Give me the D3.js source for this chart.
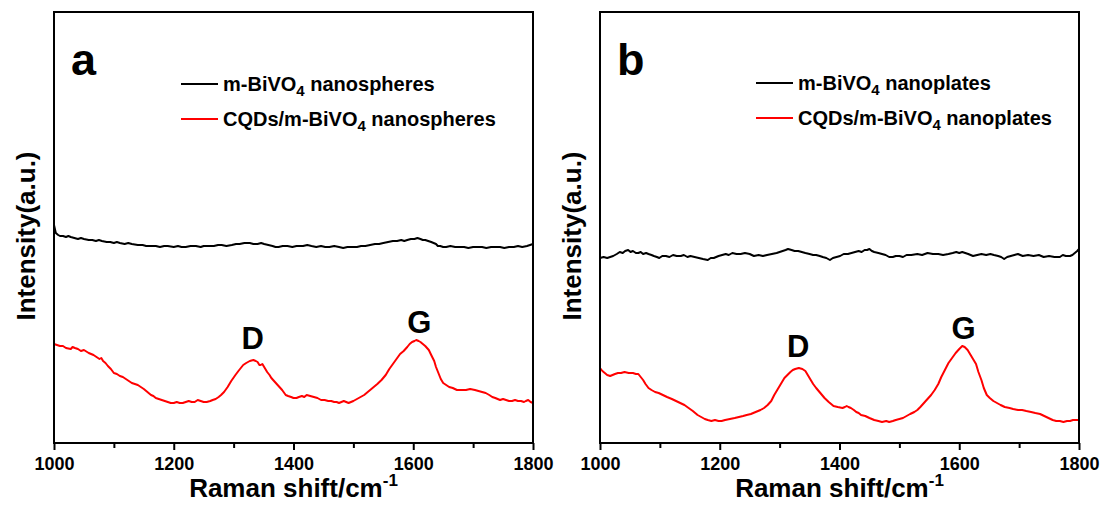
<!DOCTYPE html>
<html>
	<head>
		<title>Raman spectra</title>
		<meta http-equiv='Content-Type' content='text/html;charset=utf-8'/>
		<style>
		body {
			margin: 0;
			background: #ffffff;
			font-family: 'Liberation Sans', Arial, sans-serif;
			font-weight: bold;
		}
		.frame {
			fill: none;
			stroke: #000000;
			stroke-width: 2px;
		}
		.axis path { display: none; }
		.axis line { stroke: #000000; stroke-width: 2px; }
		.axis text { font-size: 18px; font-weight: bold; fill: #000000; font-family: 'Liberation Sans', Arial, sans-serif; }
		.curve { fill: none; stroke-width: 2px; stroke-linejoin: round; }
		</style>
	</head>

	<body>
	<script src='https://d3js.org/d3.v7.min.js'></script>

	<script>
	'use strict';
	// Raman shift (cm-1) vs intensity (a.u.)
	const bivoSpheres = [[1000,218],[1003,210],[1007,208],[1010,207],[1015,207],[1020,206],[1024,207],[1028,206],[1034,205],
		[1040,204],[1045,205],[1050,204],[1058,203],[1064,203],[1070,202],[1075,203],[1080,202],[1088,201],[1094,201],[1100,200],
		[1105,201],[1110,200],[1118,199],[1124,200],[1130,199],[1140,198],[1148,198],[1154,197],[1160,197],[1170,197],[1177,196],
		[1184,197],[1190,197],[1200,196],[1207,197],[1213,196],[1220,196],[1228,197],[1237,197],[1245,196],[1250,197],[1258,197],
		[1267,197],[1274,198],[1280,198],[1288,197],[1297,198],[1304,199],[1310,199],[1318,200],[1327,200],[1333,199],[1340,199],
		[1346,200],[1351,199],[1358,198],[1365,197],[1370,196],[1375,196],[1382,197],[1390,197],[1398,196],[1405,197],[1416,197],
		[1423,198],[1430,197],[1438,196],[1446,197],[1453,196],[1460,196],[1468,197],[1476,196],[1483,195],[1490,196],[1498,196],
		[1506,196],[1513,197],[1520,197],[1528,198],[1536,199],[1543,199],[1550,200],[1558,201],[1566,202],[1573,202],[1580,203],
		[1585,202],[1590,203],[1596,204],[1602,204],[1607,205],[1612,204],[1616,203],[1620,203],[1625,202],[1630,201],[1634,200],
		[1638,199],[1641,197],[1645,197],[1650,196],[1655,196],[1662,197],[1670,196],[1677,196],[1685,196],[1692,195],[1700,196],
		[1707,196],[1715,196],[1722,195],[1730,196],[1738,196],[1745,196],[1752,195],[1760,196],[1768,196],[1775,197],[1782,196],
		[1790,197],[1795,198],[1800,199]];
	const cqdSpheres = [[1000,99],[1005,98],[1010,97],[1015,97],[1020,95],[1028,94],[1031,96],[1035,95],[1040,94],[1045,92],
		[1050,93],[1058,90],[1062,89],[1066,88],[1071,86],[1076,84],[1079,85],[1082,82],[1086,80],[1090,77],[1095,74],[1100,70],
		[1105,69],[1110,67],[1115,66],[1120,64],[1125,62],[1130,60],[1135,59],[1140,58],[1145,56],[1150,54],[1154,52],[1158,50],
		[1162,48],[1166,47],[1170,45],[1175,44],[1180,43],[1185,42],[1190,41],[1195,40],[1200,40],[1205,41],[1210,40],[1215,40],
		[1220,41],[1225,42],[1230,41],[1235,41],[1240,43],[1245,42],[1250,41],[1255,41],[1261,42],[1265,43],[1270,44],[1275,46],
		[1279,48],[1284,51],[1290,56],[1296,62],[1303,68],[1308,72],[1312,75],[1316,78],[1321,80],[1327,82],[1333,83],[1337,82],
		[1340,81],[1343,78],[1345,78],[1348,79],[1350,77],[1353,74],[1356,71],[1360,68],[1363,65],[1369,61],[1375,57],[1381,53],
		[1387,48],[1391,47],[1396,46],[1400,45],[1405,45],[1409,46],[1414,47],[1418,46],[1422,48],[1428,47],[1434,46],[1440,45],
		[1446,43],[1452,43],[1458,42],[1463,42],[1468,41],[1472,41],[1476,40],[1480,41],[1484,42],[1488,41],[1492,40],[1496,41],
		[1500,42],[1506,44],[1512,46],[1518,48],[1524,51],[1532,55],[1540,59],[1547,63],[1554,68],[1560,74],[1566,79],[1572,84],
		[1578,89],[1584,92],[1590,96],[1594,99],[1598,101],[1602,102],[1605,103],[1609,102],[1612,101],[1616,99],[1620,97],
		[1626,93],[1630,88],[1635,82],[1638,76],[1642,70],[1646,64],[1650,60],[1655,58],[1660,56],[1666,55],[1673,53],[1680,53],
		[1688,53],[1695,54],[1703,53],[1709,52],[1715,51],[1721,50],[1727,48],[1732,46],[1737,45],[1741,44],[1745,43],[1750,44],
		[1755,43],[1760,42],[1765,42],[1770,43],[1775,42],[1780,42],[1785,41],[1788,42],[1792,43],[1796,41],[1800,40]];
	const bivoPlates = [[1000,185],[1006,186],[1012,185],[1017,186],[1022,187],[1028,189],[1033,191],[1038,190],[1042,192],
		[1047,193],[1051,191],[1055,192],[1060,190],[1064,190],[1068,191],[1072,189],[1077,190],[1081,189],[1086,188],[1090,187],
		[1095,186],[1099,185],[1104,187],[1110,187],[1116,186],[1122,188],[1128,187],[1135,187],[1140,188],[1146,186],[1151,187],
		[1158,186],[1165,185],[1172,184],[1180,183],[1185,185],[1190,185],[1198,187],[1204,188],[1210,189],[1215,188],[1221,190],
		[1228,189],[1235,189],[1242,190],[1250,189],[1257,187],[1265,188],[1272,187],[1279,188],[1287,189],[1295,190],[1300,191],
		[1305,192],[1310,193],[1314,194],[1320,193],[1325,192],[1331,192],[1337,191],[1343,190],[1350,189],[1356,188],[1361,188],
		[1367,187],[1372,186],[1378,185],[1384,183],[1389,185],[1395,186],[1401,187],[1407,189],[1414,189],[1420,190],[1426,191],
		[1432,192],[1437,191],[1442,193],[1446,193],[1450,194],[1454,192],[1458,191],[1465,190],[1471,189],[1477,188],[1483,186],
		[1489,186],[1494,187],[1500,187],[1506,186],[1512,188],[1520,188],[1530,189],[1538,188],[1547,190],[1556,189],[1565,189],
		[1573,188],[1582,189],[1589,190],[1595,191],[1600,190],[1605,191],[1610,190],[1615,189],[1619,188],[1623,187],[1630,188],
		[1637,189],[1645,188],[1652,189],[1658,188],[1665,187],[1670,186],[1675,184],[1680,186],[1686,187],[1692,188],[1698,189],
		[1706,187],[1715,188],[1724,187],[1733,188],[1741,186],[1750,187],[1759,186],[1768,186],[1773,188],[1778,187],[1785,187],
		[1789,188],[1793,190],[1797,192],[1800,194]];
	const cqdPlates = [[1000,75],[1004,72],[1008,70],[1012,68],[1017,67],[1021,68],[1025,69],[1030,70],[1035,70],[1041,71],
		[1048,70],[1055,70],[1060,69],[1064,69],[1068,66],[1072,63],[1076,59],[1081,55],[1086,53],[1092,51],[1098,50],[1105,48],
		[1112,46],[1120,44],[1127,42],[1134,40],[1141,38],[1148,35],[1155,32],[1163,28],[1169,26],[1175,24],[1180,23],[1186,22],
		[1192,23],[1198,22],[1203,22],[1209,23],[1217,24],[1225,25],[1232,26],[1239,27],[1245,28],[1252,29],[1260,31],[1268,33],
		[1274,35],[1280,38],[1286,42],[1291,48],[1296,53],[1300,57],[1304,61],[1308,65],[1313,68],[1318,71],[1322,73],[1326,74],
		[1332,75],[1338,74],[1343,72],[1347,68],[1352,63],[1356,59],[1361,55],[1368,50],[1375,45],[1382,41],[1390,37],[1397,36],
		[1405,35],[1409,36],[1412,37],[1415,36],[1419,35],[1424,33],[1428,31],[1432,30],[1436,28],[1443,27],[1450,25],[1458,23],
		[1465,22],[1471,21],[1478,22],[1483,21],[1489,22],[1494,23],[1500,24],[1506,25],[1512,27],[1518,29],[1525,31],[1530,33],
		[1535,36],[1541,40],[1547,44],[1553,48],[1559,53],[1565,59],[1570,66],[1576,73],[1582,80],[1588,85],[1594,90],[1600,94],
		[1605,97],[1609,96],[1614,93],[1620,87],[1624,83],[1628,79],[1632,71],[1637,63],[1641,55],[1646,48],[1651,45],[1657,42],
		[1663,40],[1669,38],[1676,36],[1684,35],[1690,34],[1698,33],[1705,33],[1712,32],[1720,31],[1727,30],[1735,29],[1742,27],
		[1749,25],[1756,23],[1762,22],[1768,22],[1774,21],[1780,22],[1785,22],[1790,23],[1795,23],[1800,23]];

	const xTicks = [1000, 1200, 1400, 1600, 1800];
	const xMinor = [1100, 1300, 1500, 1700];

	const panels = [
		{ letter: 'a', left: 54, black: bivoSpheres, red: cqdSpheres, shape: 'nanospheres', legendX: 181, legendY: 84,
		  peaks: [{ name: 'D', shift: 1332, level: 94 }, { name: 'G', shift: 1610, level: 110 }] },
		{ letter: 'b', left: 600, black: bivoPlates, red: cqdPlates, shape: 'nanoplates', legendX: 756, legendY: 83,
		  peaks: [{ name: 'D', shift: 1331, level: 86 }, { name: 'G', shift: 1607, level: 104 }] }
	];

	const plotW = 479, plotTop = 12, plotBottom = 443;

	const svg = d3.select('body').append('svg')
		.attr('width', 1104)
		.attr('height', 509);

	panels.forEach(function (p) {
		const x = d3.scaleLinear().domain([1000, 1800]).range([p.left, p.left + plotW]);
		const y = d3.scaleLinear().domain([0, 431]).range([plotBottom, plotTop]);
		const g = svg.append('g');

		const line = d3.line()
			.x(function (d) { return x(d[0]); })
			.y(function (d) { return y(d[1]); });

		g.append('path').datum(p.black).attr('class', 'curve').attr('stroke', '#000000').attr('d', line);
		g.append('path').datum(p.red).attr('class', 'curve').attr('stroke', '#ff0000').attr('d', line);

		// minor ticks
		g.append('g')
			.attr('class', 'axis')
			.attr('transform', 'translate(0,' + plotBottom + ')')
			.call(d3.axisBottom(x).tickValues(xMinor).tickSize(5).tickFormat(''));
		// major ticks
		g.append('g')
			.attr('class', 'axis')
			.attr('transform', 'translate(0,' + plotBottom + ')')
			.call(d3.axisBottom(x).tickValues(xTicks).tickSize(7).tickPadding(7).tickFormat(d3.format('d')));

		g.append('rect')
			.attr('class', 'frame')
			.attr('x', p.left).attr('y', plotTop)
			.attr('width', plotW).attr('height', plotBottom - plotTop);

		// x title
		const xt = g.append('text')
			.attr('x', p.left + plotW / 2)
			.attr('y', 497)
			.attr('text-anchor', 'middle')
			.attr('font-size', 26);
		xt.append('tspan').text('Raman shift/cm');
		xt.append('tspan').attr('font-size', 17).attr('dy', -11).text('-1');

		// y title
		g.append('text')
			.attr('transform', 'translate(' + (p.left - 19) + ',236) rotate(-90)')
			.attr('text-anchor', 'middle')
			.attr('font-size', 26)
			.text('Intensity(a.u.)');

		// panel letter
		g.append('text')
			.attr('x', p.left + 17)
			.attr('y', 75)
			.attr('font-size', 45)
			.text(p.letter);

		// legend
		const items = [
			{ color: '#000000', label: 'm-BiVO', rest: ' ' + p.shape },
			{ color: '#ff0000', label: 'CQDs/m-BiVO', rest: ' ' + p.shape }
		];
		items.forEach(function (it, i) {
			const ly = p.legendY + i * 35;
			g.append('line')
				.attr('x1', p.legendX).attr('x2', p.legendX + 37)
				.attr('y1', ly).attr('y2', ly)
				.attr('stroke', it.color).attr('stroke-width', 2);
			const t = g.append('text')
				.attr('x', p.legendX + 42)
				.attr('y', ly + 7)
				.attr('font-size', 20);
			t.append('tspan').text(it.label);
			t.append('tspan').attr('font-size', 15).attr('dy', 5).text('4');
			t.append('tspan').attr('dy', -5).text(it.rest);
		});

		// peak labels
		g.selectAll('.peak')
			.data(p.peaks)
			.enter().append('text')
			.attr('class', 'peak')
			.attr('x', function (d) { return x(d.shift); })
			.attr('y', function (d) { return y(d.level); })
			.attr('text-anchor', 'middle')
			.attr('font-size', 31)
			.text(function (d) { return d.name; });
	});
	</script>
</body>
</html>
